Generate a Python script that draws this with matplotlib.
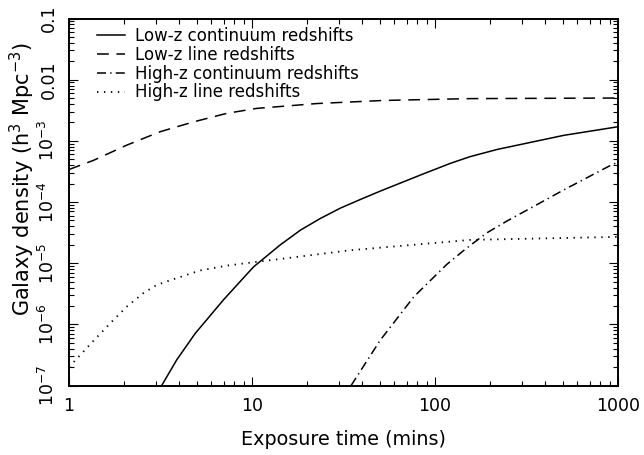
import numpy as np
import matplotlib
matplotlib.use('Agg')
import matplotlib.pyplot as plt
from matplotlib.ticker import FixedLocator, FixedFormatter, LogLocator, NullFormatter

plt.rcParams['font.family'] = 'DejaVu Sans'
plt.rcParams['lines.scale_dashes'] = False

# exposure time (mins) and galaxy density (h^3 Mpc^-3)
lowz_cont_t = [3.21, 3.88, 4.89, 6.98, 10.2, 14.3, 18.4, 23.6, 30.4, 39.1,
               50.3, 64.7, 83, 121, 155, 219, 506, 1000]
lowz_cont_n = [1.0e-7, 2.63e-7, 7.08e-7, 2.51e-6, 8.71e-6, 2.0e-5, 3.47e-5,
               5.37e-5, 7.94e-5, 1.10e-4, 1.51e-4, 2.04e-4, 2.75e-4, 4.27e-4,
               5.50e-4, 7.24e-4, 1.23e-3, 1.70e-3]

lowz_line_t = [1, 1.36, 2.07, 3.15, 4.79, 7.3, 10.6, 22.6, 52, 155, 1000]
lowz_line_n = [3.4e-4, 4.79e-4, 8.51e-4, 1.41e-3, 2.04e-3, 2.82e-3, 3.39e-3,
               4.07e-3, 4.57e-3, 4.90e-3, 5.01e-3]

highz_cont_t = [34.8, 50.2, 76.6, 116, 148, 193, 251, 333, 506, 912, 1000]
highz_cont_n = [1.0e-7, 5.5e-7, 2.82e-6, 9.55e-6, 1.74e-5, 3.16e-5, 5.01e-5,
                7.94e-5, 1.58e-4, 3.98e-4, 4.47e-4]

highz_line_t = [1, 1.33, 1.71, 2.07, 2.55, 3.0, 3.57, 5.2, 7.3, 11.1, 14.3, 34, 155, 1000]
highz_line_n = [2.0e-7, 5.0e-7, 1.10e-6, 1.95e-6, 3.24e-6, 4.37e-6, 5.25e-6,
                7.59e-6, 9.12e-6, 1.07e-5, 1.17e-5, 1.62e-5, 2.40e-5, 2.69e-5]

yticks = [1e-7, 1e-6, 1e-5, 1e-4, 1e-3, 1e-2, 1e-1]
yticklabels = [r'$10^{-7}$', r'$10^{-6}$', r'$10^{-5}$', r'$10^{-4}$', r'$10^{-3}$', '0.01', '0.1']
xticks = [1, 10, 100, 1000]
xticklabels = ['1', '10', '100', '1000']

fig = plt.figure(figsize=(6.44, 4.55), dpi=100)
ax = fig.add_axes([69/644, 1 - 385.5/455, 549/644, 367/455])

ax.plot(lowz_cont_t, lowz_cont_n, color='black', lw=1.1, ls='-',
        label='Low-z continuum redshifts')
ax.plot(lowz_line_t, lowz_line_n, color='black', lw=1.1, ls=(0, (8.5, 5.5)),
        label='Low-z line redshifts')
ax.plot(highz_cont_t, highz_cont_n, color='black', lw=1.1, ls=(0, (6.5, 3, 1, 3)),
        label='High-z continuum redshifts')
ax.plot(highz_line_t, highz_line_n, color='black', lw=1.3, ls=(0, (1, 4)),
        label='High-z line redshifts')

ax.set_xscale('log')
ax.set_yscale('log')
ax.set_xlim(1, 1000)
ax.set_ylim(1e-7, 0.1)

ax.xaxis.set_major_locator(FixedLocator(xticks))
ax.xaxis.set_major_formatter(FixedFormatter(xticklabels))
ax.xaxis.set_minor_locator(LogLocator(base=10, subs=range(2, 10), numticks=20))
ax.xaxis.set_minor_formatter(NullFormatter())
ax.yaxis.set_major_locator(FixedLocator(yticks))
ax.yaxis.set_major_formatter(FixedFormatter(yticklabels))
ax.yaxis.set_minor_locator(LogLocator(base=10, subs=range(2, 10), numticks=20))
ax.yaxis.set_minor_formatter(NullFormatter())

ax.tick_params(which='both', direction='in', top=True, right=True, width=0.8, labelsize=12.5)
ax.tick_params(which='major', length=6.5, pad=8)
ax.tick_params(which='minor', length=3.5)
ax.tick_params(axis='y', labelrotation=90)
for lab in ax.get_yticklabels():
    lab.set_va('center')
for sp in ax.spines.values():
    sp.set_linewidth(1.4)

ax.set_xlabel('Exposure time (mins)', fontsize=13.8, va='center')
ax.xaxis.set_label_coords(0.5, -0.1485)
ax.set_ylabel(r'Galaxy density (h$^3$ Mpc$^{-3}$)', fontsize=15, va='center')
ax.yaxis.set_label_coords(-0.0856, 0.563)

ax.legend(loc='upper left', bbox_to_anchor=(0.051, 0.977), frameon=False, fontsize=12,
          handlelength=1.7, handletextpad=0.6, labelspacing=0.05,
          borderaxespad=0, borderpad=0)

fig.savefig('out.png', dpi=100)
